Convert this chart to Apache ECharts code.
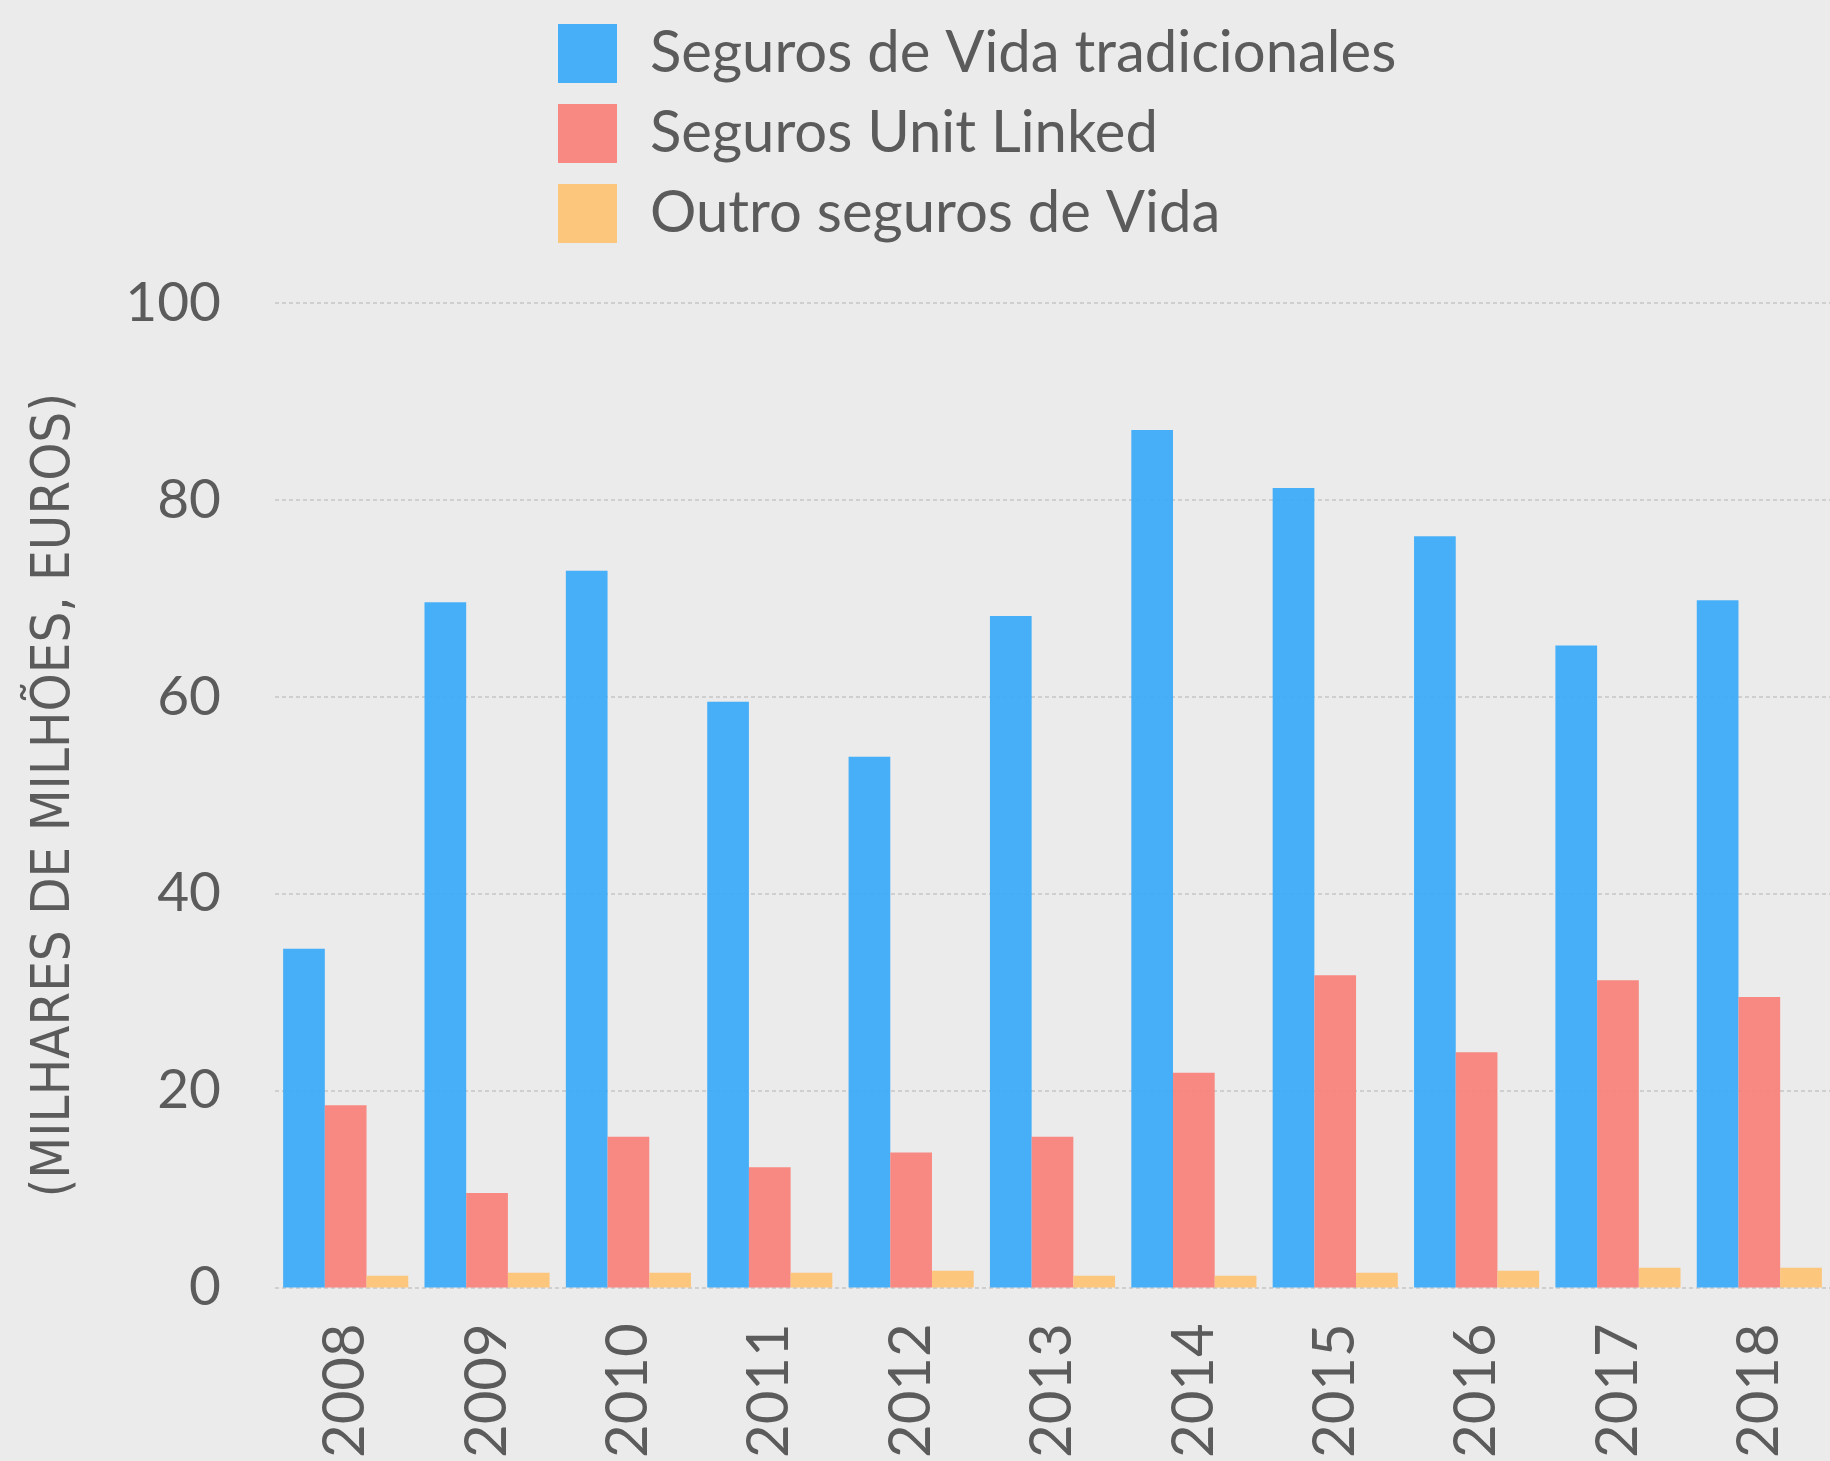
<!DOCTYPE html>
<html>
<head>
<meta charset="utf-8">
<script src="https://cdn.jsdelivr.net/npm/echarts@6/dist/echarts.min.js"></script>
<style>
  html, body { margin: 0; padding: 0; background: #ebebeb; }
  #chart { width: 1830px; height: 1461px; }
</style>
</head>
<body>
<div id="chart"></div>
<script>
// Life insurance premiums by year (thousands of millions of euros)
const years = ['2008', '2009', '2010', '2011', '2012', '2013', '2014', '2015', '2016', '2017', '2018'];
const vidaTradicional = [34.4, 69.6, 72.8, 59.5, 53.9, 68.2, 87.1, 81.2, 76.3, 65.2, 69.8];
const unitLinked = [18.5, 9.6, 15.3, 12.2, 13.7, 15.3, 21.8, 31.7, 23.9, 31.2, 29.5];
const outrosVida = [1.2, 1.5, 1.5, 1.5, 1.7, 1.2, 1.2, 1.5, 1.7, 2.0, 2.0];
const seriesNames = ['Seguros de Vida tradicionales', 'Seguros Unit Linked', 'Outro seguros de Vida'];
const yTicks = { min: 0, max: 100, interval: 20 };

const textColor = '#5b5b5b';
const baseFont = 'Lato, "Open Sans", sans-serif';

const chart = echarts.init(document.getElementById('chart'), null, { renderer: 'canvas' });

function barSeries(name, data, color) {
  return {
    name: name,
    type: 'bar',
    data: data,
    barGap: '0%',
    barCategoryGap: '11.5%',
    itemStyle: { color: color, opacity: 0.9 },
    emphasis: { disabled: true }
  };
}

chart.setOption({
  backgroundColor: '#ebebeb',
  animation: false,
  legend: {
    orient: 'vertical',
    left: 558,
    top: 24,
    padding: 0,
    itemWidth: 59,
    itemHeight: 59,
    itemGap: 21,
    icon: 'rect',
    textStyle: { color: textColor, fontSize: 58, fontFamily: baseFont, padding: [0, 0, 0, 28] },
    data: seriesNames
  },
  // plot band runs slightly past the right edge of the canvas
  grid: { left: 275, width: 1561, top: 303, bottom: 171, containLabel: false },
  xAxis: {
    type: 'category',
    data: years,
    axisLine: { show: false },
    axisTick: { show: false },
    axisLabel: {
      rotate: 90,
      margin: 36,
      color: textColor,
      fontSize: 58,
      fontFamily: baseFont
    }
  },
  yAxis: {
    type: 'value',
    min: yTicks.min,
    max: yTicks.max,
    interval: yTicks.interval,
    name: '(MILHARES DE MILHÕES, EUROS)',
    nameLocation: 'middle',
    nameGap: 193,
    nameTextStyle: {
      color: textColor,
      fontSize: 54,
      fontFamily: '"Liberation Sans Narrow", "DejaVu Sans Condensed", sans-serif'
    },
    axisLine: { show: false },
    axisTick: { show: false },
    axisLabel: {
      margin: 54,
      color: textColor,
      fontSize: 55,
      fontFamily: baseFont
    },
    splitLine: {
      show: true,
      lineStyle: { color: '#c6c6c6', width: 1.5, type: [4, 3] }
    }
  },
  series: [
    barSeries(seriesNames[0], vidaTradicional, '#35a8fa'),
    barSeries(seriesNames[1], unitLinked, '#f97e77'),
    barSeries(seriesNames[2], outrosVida, '#fec271')
  ]
});
</script>
</body>
</html>
